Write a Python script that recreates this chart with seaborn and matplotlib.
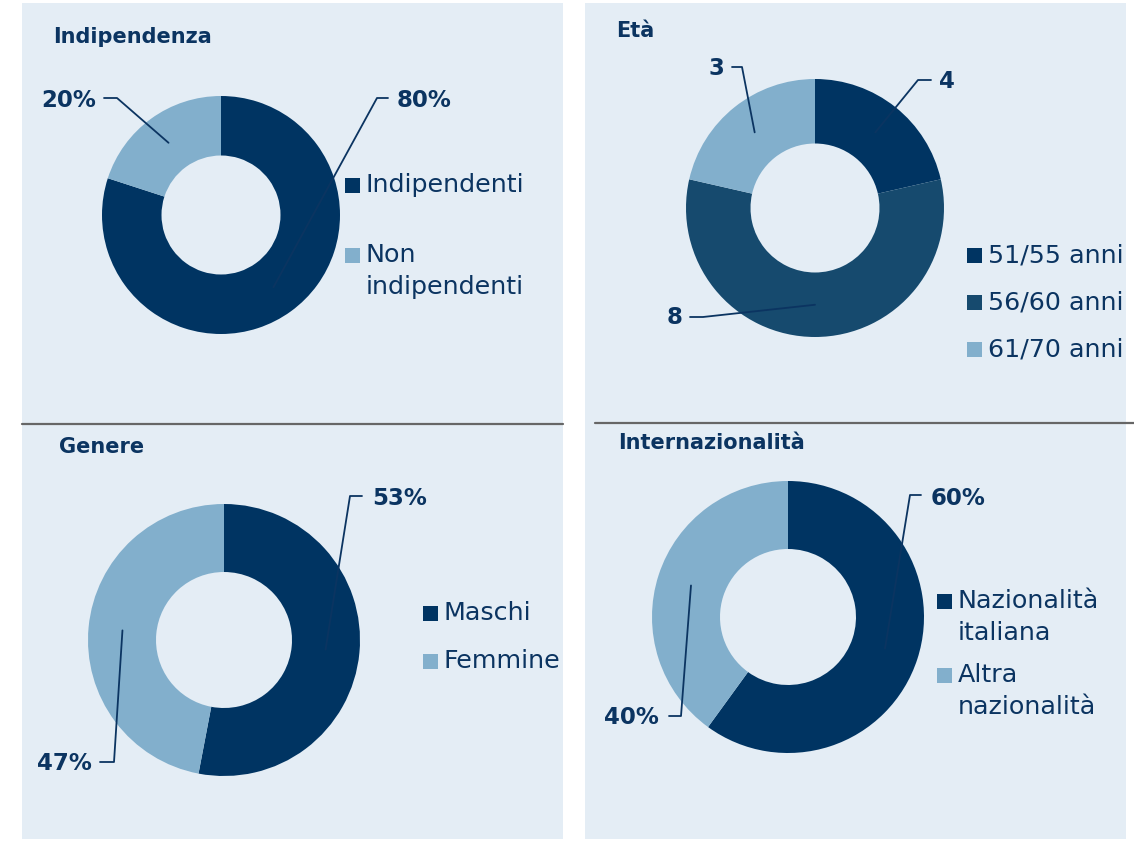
import matplotlib
matplotlib.use("Agg")
import matplotlib.pyplot as plt
from matplotlib.patches import Rectangle
import numpy as np
import seaborn as sns

# dati dei quattro grafici
indip_labels = ["Indipendenti", "Non\nindipendenti"]
indip_values = [80, 20]
indip_text = ["80%", "20%"]

eta_labels = ["51/55 anni", "56/60 anni", "61/70 anni"]
eta_values = [3, 8, 3]        # ampiezza degli spicchi
eta_text = ["4", "8", "3"]    # etichette come scritte sul grafico

genere_labels = ["Maschi", "Femmine"]
genere_values = [53, 47]
genere_text = ["53%", "47%"]

intl_labels = ["Nazionalità\nitaliana", "Altra\nnazionalità"]
intl_values = [60, 40]
intl_text = ["60%", "40%"]

titles = ["Indipendenza", "Età", "Genere", "Internazionalità"]

# colori
DARK = "#003462"
MID = "#164a6e"
LIGHT = "#82afcc"
BG = "#e4edf5"
TXT = "#0b3461"

sns.set_theme(style="white")
plt.rcParams["font.family"] = ["DejaVu Sans"]

W, H = 1134, 841
fig = plt.figure(figsize=(W / 100, H / 100), dpi=100)
ax = fig.add_axes([0, 0, 1, 1])

# sfondi delle due colonne e linee grigie
ax.add_patch(Rectangle((22, 3), 541, 836, facecolor=BG, edgecolor="none", zorder=0))
ax.add_patch(Rectangle((585, 3), 541, 836, facecolor=BG, edgecolor="none", zorder=0))
ax.plot([22, 563], [424, 424], color="#666666", lw=1.6, zorder=1)
ax.plot([595, 1134], [423, 423], color="#666666", lw=1.6, zorder=1)

# layout dei pannelli (posizioni in pixel)
panels = [
    dict(values=indip_values, labels=indip_labels, text=indip_text,
         colors=[DARK, LIGHT], center=(221, 215), R=119,
         title_xy=(53, 37),
         leaders=[[(377, 98), (388, 98), (397, 100, "left")],
                  [(117, 98), (104, 98), (96, 100, "right")]],
         legend_x=345, legend_y=[185, 255]),
    dict(values=eta_values, labels=eta_labels, text=eta_text,
         colors=[DARK, MID, LIGHT], center=(815, 208), R=129,
         title_xy=(616, 31),
         leaders=[[(918, 80), (931, 80), (939, 81, "left")],
                  [(703, 317), (690, 317), (683, 318, "right")],
                  [(742, 67), (732, 67), (724, 68, "right")]],
         legend_x=967, legend_y=[255, 302, 349]),
    dict(values=genere_values, labels=genere_labels, text=genere_text,
         colors=[DARK, LIGHT], center=(224, 640), R=136,
         title_xy=(59, 447),
         leaders=[[(350, 496), (362, 496), (372, 498, "left")],
                  [(114, 762), (100, 762), (92, 764, "right")]],
         legend_x=423, legend_y=[613, 661]),
    dict(values=intl_values, labels=intl_labels, text=intl_text,
         colors=[DARK, LIGHT], center=(788, 617), R=136,
         title_xy=(618, 443),
         leaders=[[(910, 495), (921, 495), (931, 498, "left")],
                  [(681, 716), (669, 716), (659, 718, "right")]],
         legend_x=937, legend_y=[601, 675]),
]

for p, title in zip(panels, titles):
    cx, cy = p["center"]
    R = p["R"]
    wedges, _ = ax.pie(p["values"], colors=p["colors"], startangle=270,
                       counterclock=True, radius=R, center=(cx, cy),
                       wedgeprops=dict(width=R * 0.5, linewidth=0), frame=True)
    for w in wedges:
        w.set_zorder(2)

    # linee guida dal centro dello spicchio all'etichetta
    rm = R * 0.75
    for w, lab, ld in zip(wedges, p["text"], p["leaders"]):
        ang = np.deg2rad((w.theta1 + w.theta2) / 2)
        ax0, ay0 = cx + rm * np.cos(ang), cy + rm * np.sin(ang)
        (ex, ey), (fx, fy), (tx, ty, ha) = ld
        ax.plot([ax0, ex, fx], [ay0, ey, fy], color=TXT, lw=1.3, zorder=3)
        ax.text(tx, ty, lab, ha=ha, va="center", fontsize=16.5, fontweight="bold",
                color=TXT, zorder=4)

    # titolo
    ax.text(*p["title_xy"], title, ha="left", va="center", fontsize=15,
            fontweight="bold", color=TXT, zorder=4)

    # legenda
    lx = p["legend_x"]
    for lab, col, ly in zip(p["labels"], p["colors"], p["legend_y"]):
        ax.add_patch(Rectangle((lx, ly - 7.5), 15, 15, facecolor=col,
                               edgecolor="none", zorder=4))
        for k, line in enumerate(lab.split("\n")):
            ax.text(lx + 21, ly + k * 32, line, ha="left", va="center",
                    fontsize=18.3, color=TXT, zorder=4)

ax.set_xlim(0, W)
ax.set_ylim(H, 0)
ax.set_aspect("equal")
ax.axis("off")

fig.savefig("out.png", dpi=100, facecolor="white")
